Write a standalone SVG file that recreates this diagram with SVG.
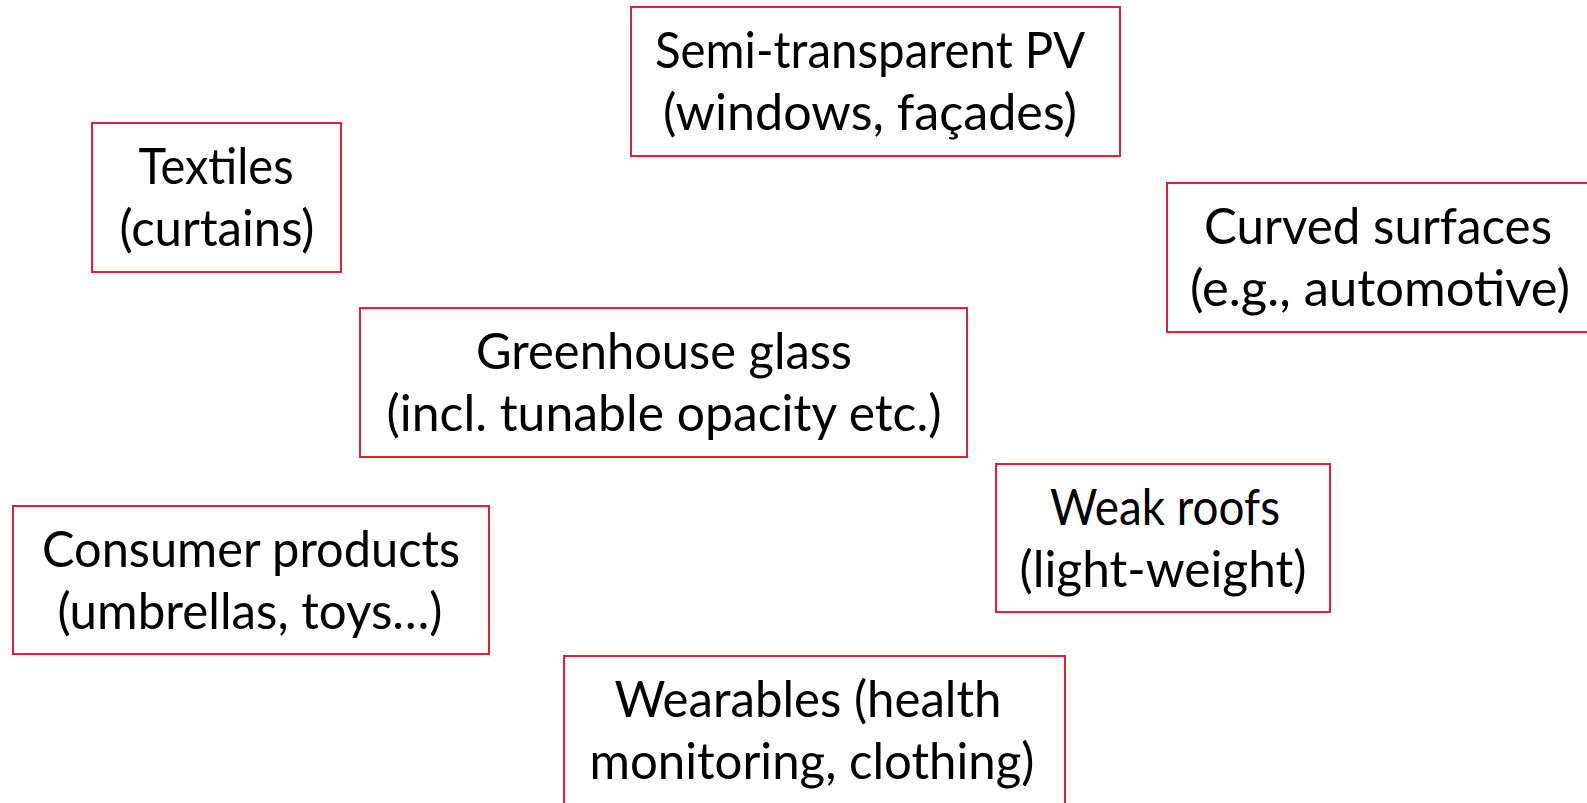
<svg xmlns="http://www.w3.org/2000/svg" width="1587" height="803" viewBox="0 0 1587 803">
<style>
.box{fill:#ffffff;stroke:#E0203C;stroke-width:2}
.t{font-family:Lato,"Open Sans","Liberation Sans",sans-serif;font-size:50px;fill:#000000;text-anchor:middle}
</style>
<rect x="0" y="0" width="1587" height="803" fill="#ffffff"/>
<g id="connectors"></g>
<g id="node-semitransparent">
<rect class="box" x="631" y="7" width="489" height="149"/>
<text class="t" x="870" y="68" textLength="430" lengthAdjust="spacingAndGlyphs">Semi-transparent PV</text>
<text class="t" x="870" y="130" textLength="414" lengthAdjust="spacingAndGlyphs">(windows, façades)</text>
</g>
<g id="node-textiles">
<rect class="box" x="92" y="123" width="249" height="149"/>
<text class="t" x="216" y="184" textLength="155" lengthAdjust="spacingAndGlyphs">Textiles</text>
<text class="t" x="217" y="246" textLength="195" lengthAdjust="spacingAndGlyphs">(curtains)</text>
</g>
<g id="node-curved">
<rect class="box" x="1167" y="183" width="424" height="149"/>
<text class="t" x="1378" y="244" textLength="348" lengthAdjust="spacingAndGlyphs">Curved surfaces</text>
<text class="t" x="1380" y="306" textLength="380" lengthAdjust="spacingAndGlyphs">(e.g., automotive)</text>
</g>
<g id="node-greenhouse">
<rect class="box" x="360" y="308" width="607" height="149"/>
<text class="t" x="664" y="369" textLength="376" lengthAdjust="spacingAndGlyphs">Greenhouse glass</text>
<text class="t" x="664" y="431" textLength="555" lengthAdjust="spacingAndGlyphs">(incl. tunable opacity etc.)</text>
</g>
<g id="node-weakroofs">
<rect class="box" x="996" y="464" width="334" height="148"/>
<text class="t" x="1165" y="525" textLength="230" lengthAdjust="spacingAndGlyphs">Weak roofs</text>
<text class="t" x="1163" y="587" textLength="287" lengthAdjust="spacingAndGlyphs">(light-weight)</text>
</g>
<g id="node-consumer">
<rect class="box" x="13" y="506" width="476" height="148"/>
<text class="t" x="251" y="567" textLength="418" lengthAdjust="spacingAndGlyphs">Consumer products</text>
<text class="t" x="250" y="629" textLength="385" lengthAdjust="spacingAndGlyphs">(umbrellas, toys…)</text>
</g>
<g id="node-wearables">
<rect class="box" x="564" y="656" width="501" height="160"/>
<text class="t" x="808" y="717" textLength="387" lengthAdjust="spacingAndGlyphs">Wearables (health</text>
<text class="t" x="812" y="779" textLength="445" lengthAdjust="spacingAndGlyphs">monitoring, clothing)</text>
</g>
</svg>
